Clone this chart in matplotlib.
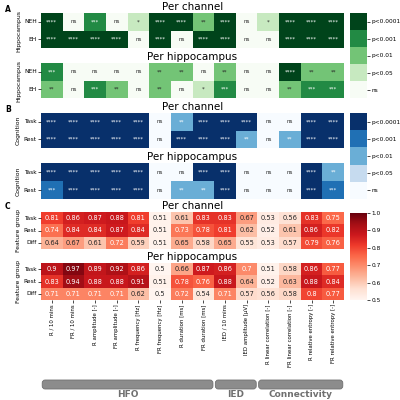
import numpy as np
import matplotlib
matplotlib.use('Agg')
import matplotlib.pyplot as plt
import seaborn as sns
from matplotlib.colors import ListedColormap, Normalize
from matplotlib.cm import ScalarMappable
from matplotlib.patches import FancyBboxPatch

features = ["R / 10 mins", "FR / 10 mins", "R amplitude [-]", "FR amplitude [-]",
            "R frequency [Hz]", "FR frequency [Hz]", "R duration [ms]", "FR duration [ms]",
            "IED / 10 mins", "IED amplitude [\u03bcV]", "R linear correlation [-]",
            "FR linear correlation [-]", "R relative entropy [-]", "FR relative entropy [-]"]

groups = ["HFO", "IED", "Connectivity"]
group_sizes = [8, 2, 4]

hippo_rows = ["NEH", "EH"]
cog_rows = ["Task", "Rest"]
feat_rows = ["Task", "Rest", "Diff"]

sig_levels = ["ns", "*", "**", "***", "****"]
sig_labels = ["ns", "p<0.05", "p<0.01", "p<0.001", "p<0.0001"]

A_channel_NEH = ["****", "ns", "***", "ns", "*", "****", "****", "**", "****", "ns", "*", "****", "****", "****"]
A_channel_EH = ["****", "****", "****", "****", "ns", "****", "ns", "****", "****", "ns", "ns", "****", "****", "****"]
A_hippo_NEH = ["***", "ns", "ns", "ns", "ns", "**", "**", "ns", "**", "ns", "ns", "****", "**", "**"]
A_hippo_EH = ["**", "ns", "***", "**", "ns", "**", "ns", "*", "***", "ns", "ns", "**", "***", "***"]

B_channel_Task = ["****", "****", "****", "****", "****", "ns", "**", "****", "****", "****", "ns", "ns", "****", "****"]
B_channel_Rest = ["****", "****", "****", "****", "****", "ns", "****", "****", "****", "**", "ns", "**", "****", "****"]
B_hippo_Task = ["****", "****", "****", "****", "****", "ns", "ns", "****", "****", "ns", "ns", "ns", "****", "**"]
B_hippo_Rest = ["***", "****", "****", "****", "****", "ns", "**", "**", "****", "ns", "ns", "ns", "****", "***"]

C_channel_Task = [0.81, 0.86, 0.87, 0.88, 0.81, 0.51, 0.61, 0.83, 0.83, 0.67, 0.53, 0.56, 0.83, 0.75]
C_channel_Rest = [0.74, 0.84, 0.84, 0.87, 0.84, 0.51, 0.73, 0.78, 0.81, 0.62, 0.52, 0.61, 0.86, 0.82]
C_channel_Diff = [0.64, 0.67, 0.61, 0.72, 0.59, 0.51, 0.65, 0.58, 0.65, 0.55, 0.53, 0.57, 0.79, 0.76]
C_hippo_Task = [0.9, 0.97, 0.89, 0.92, 0.86, 0.5, 0.66, 0.87, 0.86, 0.7, 0.51, 0.58, 0.86, 0.77]
C_hippo_Rest = [0.83, 0.94, 0.88, 0.88, 0.91, 0.51, 0.78, 0.76, 0.88, 0.64, 0.52, 0.63, 0.88, 0.84]
C_hippo_Diff = [0.71, 0.71, 0.71, 0.71, 0.62, 0.5, 0.72, 0.54, 0.71, 0.57, 0.56, 0.58, 0.8, 0.77]

W = H = 400
fig = plt.figure(figsize=(4, 4), dpi=100)


def add_ax(x0, y0, x1, y1):
    return fig.add_axes([x0 / W, 1 - y1 / H, (x1 - x0) / W, (y1 - y0) / H])


def disc_cmap(name):
    base = plt.get_cmap(name)
    return ListedColormap([base(v) for v in [0.0, 0.25, 0.5, 0.75, 1.0]])


HX0, HX1 = 41, 344
TITLE_FS = 7.5
TICK_FS = 4.2
LABEL_FS = 4.4
CB_FS = 4.2


def style_y(ax, ylabel):
    ax.set_ylabel(ylabel, fontsize=LABEL_FS, labelpad=2)
    ax.tick_params(axis='y', labelsize=TICK_FS, length=2, width=0.5, pad=1, rotation=0)


def sig_heatmap(ax, rows_data, rows, cmap, title, ylabel):
    lab = np.array(rows_data)
    lev = np.vectorize(lambda s: sig_levels.index(s))(lab)
    sns.heatmap(lev, ax=ax, cmap=cmap, vmin=-0.5, vmax=4.5, annot=lab, fmt='',
                cbar=False, annot_kws={'fontsize': 4}, xticklabels=False,
                yticklabels=rows)
    ax.set_title(title, fontsize=TITLE_FS, pad=2)
    style_y(ax, ylabel)


def val_heatmap(ax, rows_data, rows, title, xt):
    arr = np.array(rows_data)
    sns.heatmap(arr, ax=ax, cmap='Reds', vmin=0.5, vmax=1.0, annot=True, fmt='g',
                cbar=False, annot_kws={'fontsize': 4.8},
                xticklabels=features if xt else False, yticklabels=rows)
    ax.set_title(title, fontsize=TITLE_FS, pad=2)
    style_y(ax, "Feature group")
    if xt:
        ax.tick_params(axis='x', labelsize=3.9, length=2, width=0.5, pad=1, rotation=90)


greens = disc_cmap('Greens')
blues = disc_cmap('Blues')

# Panel A
axA1 = add_ax(HX0, 13, HX1, 48)
sig_heatmap(axA1, [A_channel_NEH, A_channel_EH], hippo_rows, greens, "Per channel", "Hippocampus")
axA2 = add_ax(HX0, 63, HX1, 98)
sig_heatmap(axA2, [A_hippo_NEH, A_hippo_EH], hippo_rows, greens, "Per hippocampus", "Hippocampus")

# Panel B
axB1 = add_ax(HX0, 113, HX1, 148)
sig_heatmap(axB1, [B_channel_Task, B_channel_Rest], cog_rows, blues, "Per channel", "Cognition")
axB2 = add_ax(HX0, 163, HX1, 199)
sig_heatmap(axB2, [B_hippo_Task, B_hippo_Rest], cog_rows, blues, "Per hippocampus", "Cognition")

# Panel C
axC1 = add_ax(HX0, 212, HX1, 249)
val_heatmap(axC1, [C_channel_Task, C_channel_Rest, C_channel_Diff], feat_rows, "Per channel", False)
axC2 = add_ax(HX0, 263, HX1, 300)
val_heatmap(axC2, [C_hippo_Task, C_hippo_Rest, C_hippo_Diff], feat_rows, "Per hippocampus", True)


def sig_cbar(cax, cmap):
    sm = ScalarMappable(norm=Normalize(-0.5, 4.5), cmap=cmap)
    cb = fig.colorbar(sm, cax=cax, ticks=range(5))
    cb.set_ticklabels(sig_labels)
    cb.outline.set_visible(False)
    cax.tick_params(labelsize=CB_FS, length=2, width=0.5, pad=1)


sig_cbar(add_ax(350, 13, 367, 98), greens)
sig_cbar(add_ax(350, 113, 367, 199), blues)

caxC = add_ax(350, 213, 367, 300)
cbC = fig.colorbar(ScalarMappable(norm=Normalize(0.5, 1.0), cmap='Reds'), cax=caxC,
                   ticks=[0.5, 0.6, 0.7, 0.8, 0.9, 1.0])
cbC.outline.set_visible(False)
caxC.tick_params(labelsize=CB_FS, length=2, width=0.5, pad=1)

# panel letters
for letter, y in [("A", 10), ("B", 110), ("C", 207)]:
    fig.text(5 / W, 1 - y / H, letter, fontsize=5.5, fontweight='bold', va='center', ha='left')

# group bars
gax = add_ax(HX0, 376, HX1, 400)
px_per_unit = (HX1 - HX0) / 14.0
gax.set_xlim(0, 14)
gax.set_ylim(0, 24 / px_per_unit)
gax.axis('off')
start = 0
for name, n in zip(groups, group_sizes):
    gap = 1.2 / px_per_unit
    x0 = start + gap
    w = n - 2 * gap
    y_top = 20 / px_per_unit
    y_bot = 11 / px_per_unit
    patch = FancyBboxPatch((x0, y_bot), w, y_top - y_bot,
                           boxstyle="round,pad=0,rounding_size=%f" % (3 / px_per_unit),
                           facecolor='#8c8c8c', edgecolor='#707070', linewidth=0.6)
    gax.add_patch(patch)
    gax.text(start + n / 2.0, 5.5 / px_per_unit, name, ha='center', va='center',
             fontsize=6.5, fontweight='bold', color='#707070')
    start += n

fig.savefig('out.png', dpi=100)
